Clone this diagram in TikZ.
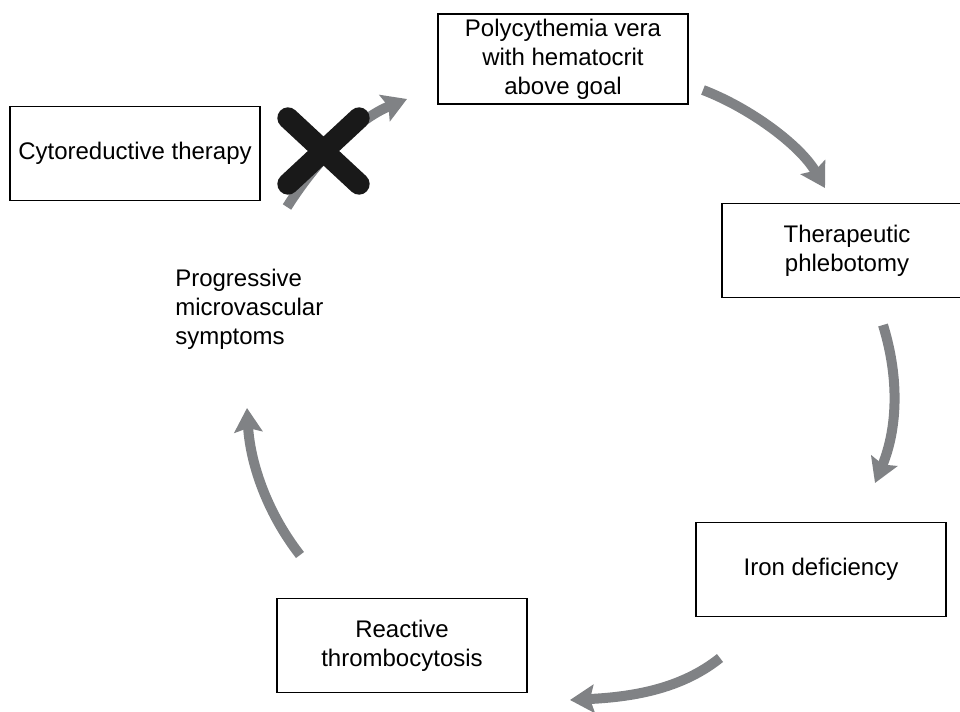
\documentclass[tikz,border=0pt]{standalone}
\usepackage{fontspec}
\setmainfont{Liberation Sans}
\usetikzlibrary{arrows.meta}
\definecolor{arrowgray}{RGB}{128,130,133}
\begin{document}
\begin{tikzpicture}[x=0.75pt,y=-0.75pt,
  every node/.style={font=\fontsize{18}{21.75}\selectfont},
  stepbox/.style={draw=black, line width=1.2pt, minimum width=187.5pt, minimum height=70.5pt, inner sep=0pt, align=center},
  cyclearrow/.style={draw=arrowgray, line width=7.5pt, -{Stealth[length=18pt,width=21pt,inset=3pt]}},
  crossline/.style={draw=black!90, line width=16pt, line cap=round}
]
\useasboundingbox (0,0) rectangle (960,711);
\clip (0,0) rectangle (960,711);

\node[stepbox, minimum height=67.5pt] (pv) at (563,59) {Polycythemia vera\\with hematocrit\\above goal};
\node[stepbox] (cyto) at (135,153.5) {Cytoreductive therapy};
\node[stepbox] (ther) at (847,250.5) {Therapeutic\\phlebotomy};
\node[stepbox] (iron) at (821,569.5) {Iron deficiency};
\node[stepbox] (react) at (402,645.5) {Reactive\\thrombocytosis};
\node[anchor=west, align=left, inner sep=0pt] (prog) at (175,309) {Progressive\\microvascular\\symptoms};

% arrow end points
\coordinate (a1s) at (287,207); \coordinate (a1e) at (407,99);
\coordinate (a2s) at (703,90);  \coordinate (a2e) at (825,188);
\coordinate (a3s) at (883,325); \coordinate (a3e) at (875,483);
\coordinate (a4s) at (720,658); \coordinate (a4e) at (570,700);
\coordinate (a5s) at (300,555); \coordinate (a5e) at (247,408);

\draw[cyclearrow] (a1s) .. controls (320,155) and (360,118) .. (a1e);
\draw[cyclearrow] (a2s) .. controls (750,108) and (800,145) .. (a2e);
\draw[cyclearrow] (a3s) .. controls (900,380) and (897,430) .. (a3e);
\draw[cyclearrow] (a4s) .. controls (680,690) and (630,697) .. (a4e);
\draw[cyclearrow] (a5s) .. controls (265,510) and (250,460) .. (a5e);

% cross
\coordinate (x1) at (288,118); \coordinate (x2) at (359,184);
\coordinate (x3) at (359,118); \coordinate (x4) at (288,184);
\draw[crossline] (x1) -- (x2);
\draw[crossline] (x3) -- (x4);
\end{tikzpicture}
\end{document}
